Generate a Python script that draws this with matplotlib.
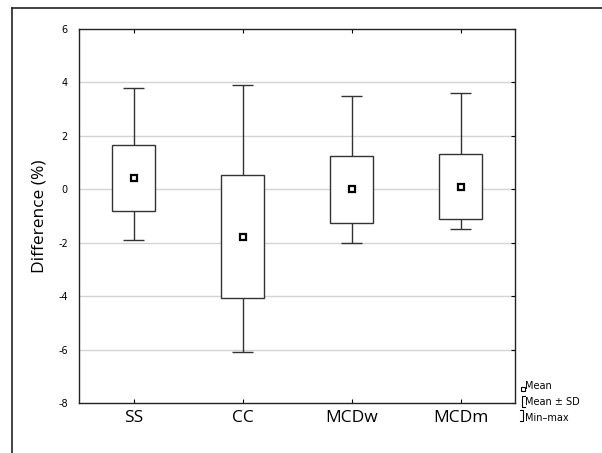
import matplotlib
matplotlib.use('Agg')
import matplotlib.pyplot as plt
from matplotlib.lines import Line2D

groups = ['SS', 'CC', 'MCDw', 'MCDm']
means = [0.44, -1.77, 0.0, 0.1]
sd_hi = [1.67, 0.53, 1.23, 1.33]
sd_lo = [-0.83, -4.07, -1.27, -1.12]
maxs = [3.8, 3.9, 3.5, 3.6]
mins = [-1.9, -6.1, -2.0, -1.5]
yticks = [-8, -6, -4, -2, 0, 2, 4, 6]

fig = plt.figure(figsize=(6.02, 4.53), dpi=100)
ax = fig.add_axes([79/602, 1 - 403/453, 436/602, 374/453])

x = list(range(len(groups)))
ax.set_xlim(-0.5, 3.5)
ax.set_ylim(-8, 6)

for yt in yticks[1:-1]:
    ax.axhline(yt, color='#d4d4d4', lw=1.0, zorder=0)

# whiskers and caps
ax.vlines(x, sd_hi, maxs, color='#333333', lw=1.0, zorder=1)
ax.vlines(x, mins, sd_lo, color='#333333', lw=1.0, zorder=1)
ax.hlines(maxs, [i - 0.1 for i in x], [i + 0.1 for i in x], color='#333333', lw=1.0)
ax.hlines(mins, [i - 0.1 for i in x], [i + 0.1 for i in x], color='#333333', lw=1.0)

heights = [h - l for h, l in zip(sd_hi, sd_lo)]
ax.bar(x, heights, bottom=sd_lo, width=0.4, color='white', edgecolor='#333333', lw=1.0, zorder=2)
ax.plot(x, means, 's', ms=5, mfc='white', mec='black', mew=1.6, zorder=3)

ax.set_xticks(x)
ax.set_xticklabels(groups, fontsize=12.5, family='Open Sans')
ax.set_yticks(yticks)
ax.set_yticklabels([str(v) for v in yticks], fontsize=7)
ax.tick_params(axis='y', left=False, right=True, direction='in', length=3, pad=8)
ax.tick_params(axis='x', top=True, bottom=True, direction='in', length=3, pad=5)
ax.set_ylabel('Difference (%)', fontsize=12.5, family='Open Sans', labelpad=8)
for s in ax.spines.values():
    s.set_color('#222222')
    s.set_linewidth(1.0)

# outer frame (top and left only visible)
fig.add_artist(Line2D([11.5/602, 1], [1 - 8/453, 1 - 8/453], color='#222222', lw=1.2))
fig.add_artist(Line2D([11.5/602, 11.5/602], [0, 1 - 8/453], color='#222222', lw=1.2))

# legend
lx = 525 / 602
fig.text(lx, 1 - 386/453, 'Mean', fontsize=7, va='center')
fig.text(lx, 1 - 402/453, 'Mean ± SD', fontsize=7, va='center')
fig.text(lx, 1 - 418/453, 'Min–max', fontsize=7, va='center')
fig.add_artist(Line2D([522.5/602], [1 - 389/453], marker='s', ms=2.5, mfc='white', mec='black', mew=0.8))
fig.add_artist(Line2D([524.5/602, 522/602, 522/602, 524.5/602],
                      [1 - 396/453, 1 - 396/453, 1 - 407/453, 1 - 407/453], color='black', lw=0.8))
fig.add_artist(Line2D([520/602, 523/602, 523/602, 520/602],
                      [1 - 410/453, 1 - 410/453, 1 - 421/453, 1 - 421/453], color='black', lw=0.8))

fig.savefig('out.png', dpi=100)
